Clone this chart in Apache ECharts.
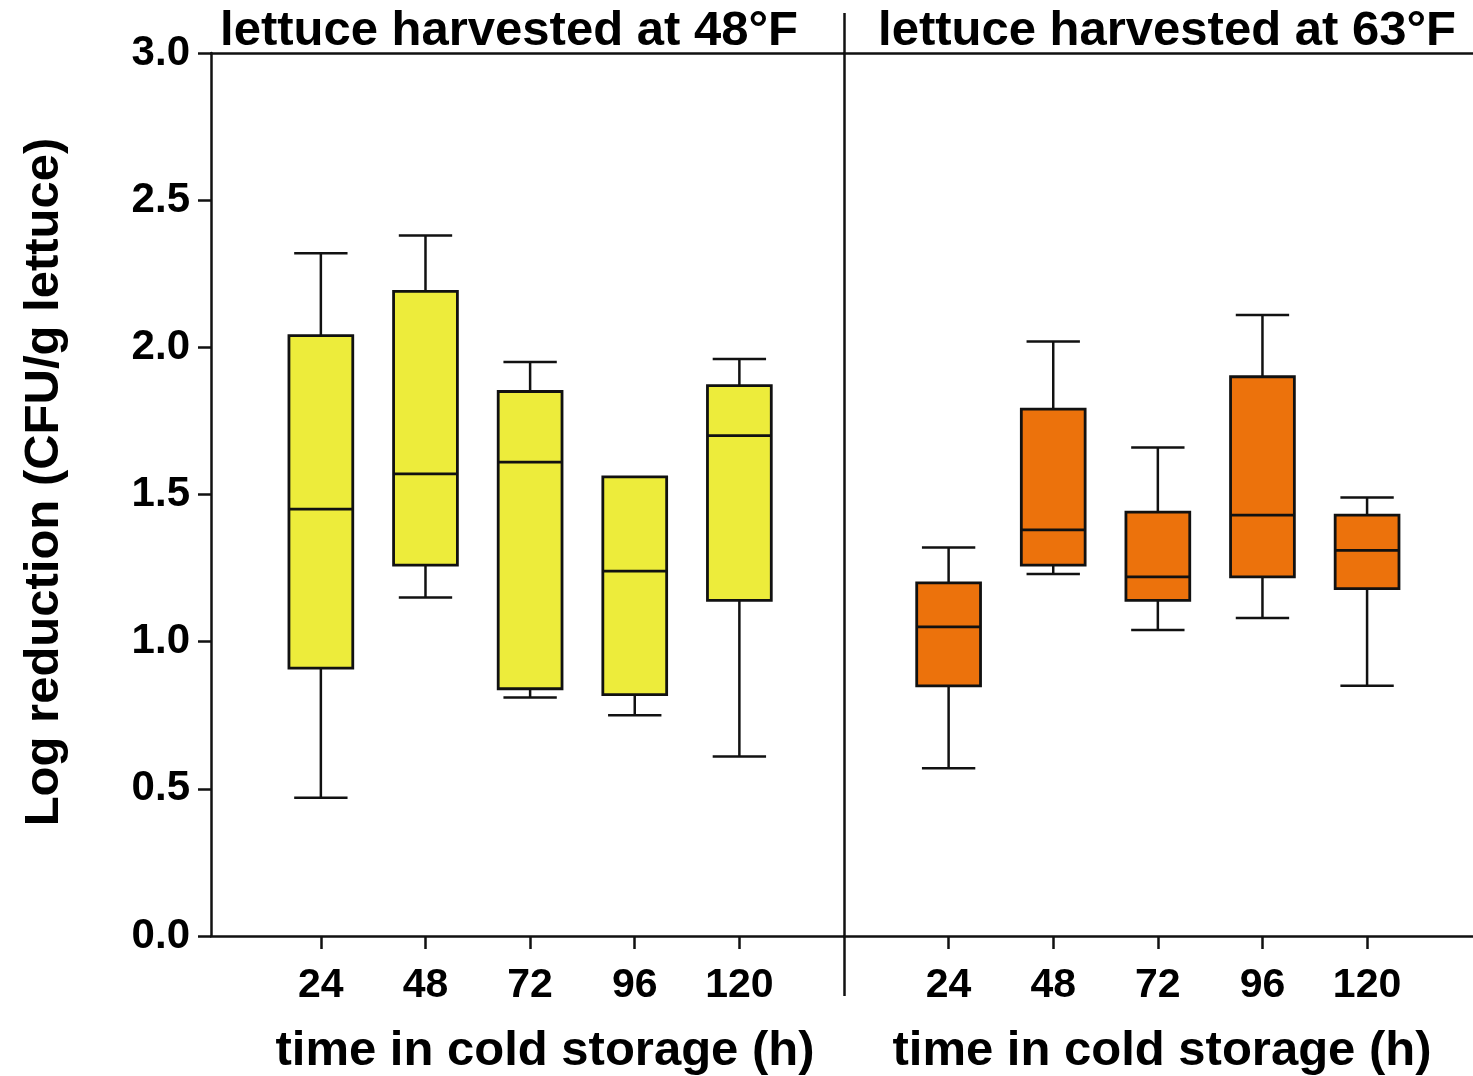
<!DOCTYPE html>
<html><head><meta charset="utf-8">
<script src="https://cdn.jsdelivr.net/npm/echarts@6/dist/echarts.min.js"></script>
<style>html,body{margin:0;padding:0;background:#fff}#c{width:1473px;height:1076px}</style>
</head><body><div id="c"></div>
<script>
// storage times (h)
const hours = [24, 48, 72, 96, 120];
// [min, Q1, median, Q3, max] log reduction, lettuce harvested at 48°F
const harvest48F = [
  [0.47, 0.91, 1.45, 2.04, 2.32],
  [1.15, 1.26, 1.57, 2.19, 2.38],
  [0.81, 0.84, 1.61, 1.85, 1.95],
  [0.75, 0.82, 1.24, 1.56, 1.56],
  [0.61, 1.14, 1.70, 1.87, 1.96]
];
// lettuce harvested at 63°F
const harvest63F = [
  [0.57, 0.85, 1.05, 1.20, 1.32],
  [1.23, 1.26, 1.38, 1.79, 2.02],
  [1.04, 1.14, 1.22, 1.44, 1.66],
  [1.08, 1.22, 1.43, 1.90, 2.11],
  [0.85, 1.18, 1.31, 1.43, 1.49]
];
const yTickValues = [0, 0.5, 1.0, 1.5, 2.0, 2.5, 3.0];
const panelTitles = ['lettuce harvested at 48°F', 'lettuce harvested at 63°F'];
const xAxisTitle = 'time in cold storage (h)';
const yAxisTitle = 'Log reduction (CFU/g lettuce)';

const FONT = '"Liberation Sans", Arial, Helvetica, sans-serif';
const INK = '#111';
const YELLOW = '#EDEC3B';
const ORANGE = '#EC720C';

function renderBox(fill) {
  return function (params, api) {
    const x = api.value(0);
    const v = [api.value(1), api.value(2), api.value(3), api.value(4), api.value(5)];
    const p = v.map(val => api.coord([x, val]));
    const cx = p[0][0];
    const unit = api.size([24, 0])[0];
    const bw = unit * 0.61, cw = unit * 0.51;
    const lw = 2.5;
    const line = (x1, y1, x2, y2, w) => ({
      type: 'line', shape: { x1, y1, x2, y2 },
      style: { stroke: INK, lineWidth: w || lw }
    });
    const children = [];
    if (Math.abs(p[0][1] - p[1][1]) > 0.5) {
      children.push(line(cx, p[1][1], cx, p[0][1]));
    }
    children.push(line(cx - cw / 2, p[0][1], cx + cw / 2, p[0][1]));
    if (Math.abs(p[4][1] - p[3][1]) > 0.5) {
      children.push(line(cx, p[3][1], cx, p[4][1]));
      children.push(line(cx - cw / 2, p[4][1], cx + cw / 2, p[4][1]));
    }
    children.push({
      type: 'rect',
      shape: { x: cx - bw / 2, y: p[3][1], width: bw, height: p[1][1] - p[3][1] },
      style: { fill: fill, stroke: INK, lineWidth: 2.8 }
    });
    children.push(line(cx - bw / 2, p[2][1], cx + bw / 2, p[2][1], 2.8));
    return { type: 'group', children };
  };
}

function bottomAxis(grid, min, max) {
  return {
    type: 'value', gridIndex: grid, position: 'bottom', min, max,
    axisLine: { show: true, onZero: false, lineStyle: { color: INK, width: 2.5 } },
    axisTick: { show: true, customValues: hours, length: 13, lineStyle: { color: INK, width: 2.5 } },
    axisLabel: { show: true, customValues: hours, margin: 29, color: '#000',
      fontFamily: FONT, fontWeight: 'bold', fontSize: 41 },
    splitLine: { show: false }
  };
}
function topAxis(grid, min, max) {
  return {
    type: 'value', gridIndex: grid, position: 'top', min, max,
    axisLine: { show: true, onZero: false, lineStyle: { color: INK, width: 2.5 } },
    axisTick: { show: false }, axisLabel: { show: false }, splitLine: { show: false }
  };
}

const chart = echarts.init(document.getElementById('c'));
chart.setOption({
  backgroundColor: '#fff',
  animation: false,
  grid: [
    { left: 211, top: 53, width: 633, height: 883 },
    { left: 844, top: 53, width: 629, height: 883 }
  ],
  xAxis: [
    bottomAxis(0, -1.2, 144),
    topAxis(0, -1.2, 144),
    bottomAxis(1, 0, 144.3),
    topAxis(1, 0, 144.3)
  ],
  yAxis: [
    {
      type: 'value', gridIndex: 0, min: 0, max: 3, interval: 0.5, position: 'left',
      axisLine: { show: true, onZero: false, lineStyle: { color: INK, width: 2.5 } },
      axisTick: { show: true, length: 13, lineStyle: { color: INK, width: 2.5 } },
      axisLabel: { margin: 21, color: '#000', fontFamily: FONT, fontWeight: 'bold', fontSize: 42,
        formatter: v => v.toFixed(1) },
      splitLine: { show: false }
    },
    { type: 'value', gridIndex: 1, min: 0, max: 3, interval: 0.5, show: false }
  ],
  series: [
    {
      type: 'custom', xAxisIndex: 0, yAxisIndex: 0,
      renderItem: renderBox(YELLOW),
      encode: { x: 0, y: [1, 2, 3, 4, 5] },
      data: hours.map((h, i) => [h].concat(harvest48F[i]))
    },
    {
      type: 'custom', xAxisIndex: 2, yAxisIndex: 1,
      renderItem: renderBox(ORANGE),
      encode: { x: 0, y: [1, 2, 3, 4, 5] },
      data: hours.map((h, i) => [h].concat(harvest63F[i]))
    }
  ],
  graphic: [
    { type: 'line', shape: { x1: 844.5, y1: 13, x2: 844.5, y2: 996 },
      style: { stroke: INK, lineWidth: 2.5 }, z: 10 },
    { type: 'text', x: 509, y: 31, style: { text: panelTitles[0], align: 'center', verticalAlign: 'middle',
      font: 'bold 49px ' + FONT, fill: '#000' } },
    { type: 'text', x: 1167, y: 31, style: { text: panelTitles[1], align: 'center', verticalAlign: 'middle',
      font: 'bold 49px ' + FONT, fill: '#000' } },
    { type: 'text', x: 545, y: 1051, style: { text: xAxisTitle, align: 'center', verticalAlign: 'middle',
      font: 'bold 49px ' + FONT, fill: '#000' } },
    { type: 'text', x: 1162, y: 1051, style: { text: xAxisTitle, align: 'center', verticalAlign: 'middle',
      font: 'bold 49px ' + FONT, fill: '#000' } },
    { type: 'text', x: 44, y: 482, rotation: Math.PI / 2, style: { text: yAxisTitle, align: 'center',
      verticalAlign: 'middle', font: 'bold 49px ' + FONT, fill: '#000' } }
  ]
});
</script>
</body></html>
